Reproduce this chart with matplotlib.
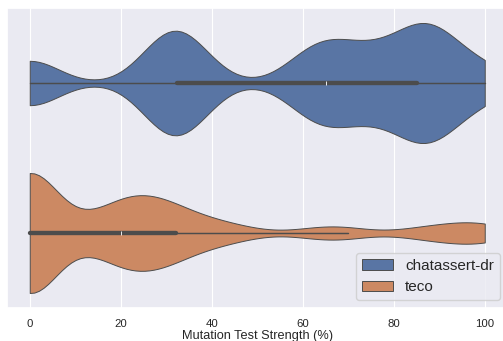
import numpy as np
import pandas as pd
import seaborn as sns
import matplotlib
matplotlib.use("Agg")
import matplotlib.pyplot as plt
from matplotlib.patches import Patch

chatassert_dr = [0, 0, 0, 0, 0, 0, 0, 0, 0,
                 28.0, 28.6, 28.6, 29.2, 29.6, 30.0, 30.0, 30.4, 30.8, 31.3, 31.6, 32.0,
                 32.3, 32.6, 33.3, 33.3, 33.3, 34.1, 34.6, 35.0, 35.7, 37.0, 37.5,
                 60.0, 60.5, 61.1, 61.5, 62.5, 62.5, 63.2, 63.6, 64.3, 64.7, 65.0, 65.4,
                 66.0, 68.8, 69.2, 70.0,
                 71.4, 72.2, 73.3, 74.1, 75.0, 76.0, 77.3, 77.5, 78.6,
                 82.6, 83.3, 83.3, 83.9, 84.2, 84.6, 85.0, 85.0, 85.7, 86.4,
                 87.0, 87.5, 87.5, 88.0, 88.2, 88.9, 88.9, 89.5, 90.0, 90.5, 90.9, 91.3,
                 91.7, 92.3,
                 100, 100, 100, 100, 100]
teco = [0, 0, 0, 0, 0, 0, 0, 0, 0, 0, 0, 0, 0, 0, 0, 0, 0, 0, 0, 0, 0, 0, 0, 0,
        10.0,
        16.0, 16.7, 17.6, 18.8, 20.0, 20.0, 20.8, 22.2, 22.7, 23.5, 25.0, 25.0,
        26.3, 27.3, 28.6, 29.4, 30.0, 30.8, 31.6, 32.9,
        35.0, 38.5, 40.0, 42.9, 46.7,
        62.5, 66.7, 70.0,
        85.7, 88.9,
        94.4, 97.1, 100, 100]
models = ["chatassert-dr", "teco"]
x_ticks = [0, 20, 40, 60, 80, 100]

df = pd.DataFrame({
    "strength": chatassert_dr + teco,
    "model": [models[0]] * len(chatassert_dr) + [models[1]] * len(teco),
})

sns.set_theme(style="darkgrid", rc={"grid.linewidth": 0.8})
plt.rcParams["font.family"] = ["Liberation Sans", "DejaVu Sans"]

fig = plt.figure(figsize=(5.03, 3.41), dpi=100)
ax = fig.add_axes([7 / 503, 33 / 341, 500.5 / 503, 300 / 341])

sns.violinplot(data=df, x="strength", y="model", hue="model", orient="h",
               cut=0, density_norm="width", bw_method=0.21, linewidth=0.7, ax=ax)

ax.set_xlim(-5, 105)
ax.set_xticks(x_ticks)
ax.tick_params(axis="x", labelsize=8.2, pad=2)
ax.set_yticklabels([])
ax.set_ylabel("")
ax.set_xlabel("Mutation Test Strength (%)", fontsize=9.2, labelpad=1)

# seaborn drops the legend when hue == y, so rebuild it from the violins
handles = []
for coll, name in zip(ax.collections[:2], models):
    handles.append(Patch(facecolor=coll.get_facecolor()[0],
                         edgecolor=coll.get_edgecolor()[0], linewidth=0.7, label=name))
ax.legend(handles=handles, loc="lower right", fontsize=11)

fig.savefig("out.png", dpi=100)
